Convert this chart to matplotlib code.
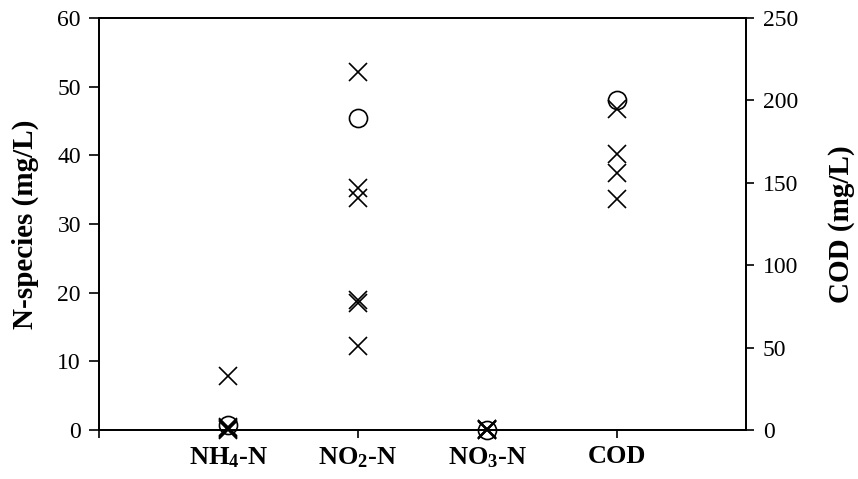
import numpy as np
import matplotlib
matplotlib.use('Agg')
import matplotlib.pyplot as plt

plt.rcParams['font.family'] = ['Liberation Serif', 'DejaVu Serif']
plt.rcParams['mathtext.fontset'] = 'custom'
plt.rcParams['mathtext.rm'] = 'Liberation Serif:bold'
plt.rcParams['mathtext.bf'] = 'Liberation Serif:bold'
plt.rcParams['mathtext.default'] = 'bf'

# category labels and x positions
categories = ['NH$_4$-N', 'NO$_2$-N', 'NO$_3$-N', 'COD']
cat_pos = [1, 2, 3, 4]

# N-species (left axis), individual samples (x) and the circle value
nh4_x = [7.8, 0.5, 0.3, 0.1, 0.0]
nh4_o = [0.8]
no2_x = [52.2, 35.2, 33.8, 18.9, 18.5, 12.2]
no2_o = [45.4]
no3_x = [0.2, 0.1, 0.0, 0.0]
no3_o = [0.0]

# COD (right axis)
cod_x = [194.5, 167.5, 156.0, 140.0]
cod_o = [200.0]

fig = plt.figure(figsize=(8.58, 4.79), dpi=100)
ax = fig.add_axes([99/858, 1 - 430/479, (746 - 99)/858, (430 - 18)/479])
ax2 = ax.twinx()

msz = 13
mew = 1.2
for pos, xs, os_ in zip(cat_pos[:3], [nh4_x, no2_x, no3_x], [nh4_o, no2_o, no3_o]):
    ax.plot([pos] * len(os_), os_, 'o', ms=msz, mfc='none', mec='black', mew=mew, clip_on=False)
    ax.plot([pos] * len(xs), xs, 'x', ms=msz, color='black', mew=mew, clip_on=False)

ax2.plot([cat_pos[3]] * len(cod_o), cod_o, 'o', ms=msz, mfc='none', mec='black', mew=mew)
ax2.plot([cat_pos[3]] * len(cod_x), cod_x, 'x', ms=msz, color='black', mew=mew)

ax.set_xlim(0, 5)
ax.set_ylim(0, 60)
ax2.set_ylim(0, 250)
ax.set_yticks(np.arange(0, 61, 10))
ax2.set_yticks(np.arange(0, 251, 50))

# major x ticks only as marks, category names on minor ticks
ax.xaxis.remove_overlapping_locs = False
ax.set_xticks([0, 2, 4])
ax.set_xticklabels([])
ax.set_xticks(cat_pos, categories, minor=True)
ax.tick_params(axis='x', which='minor', length=0, pad=11, labelsize=19)
for t in ax.get_xticklabels(minor=True):
    t.set_fontweight('bold')
ax.tick_params(axis='x', which='major', direction='out', length=6, width=1.2)
ax.tick_params(axis='y', direction='out', length=7, width=1.2, labelsize=17, pad=6)
ax2.tick_params(axis='y', direction='out', length=6, width=1.2, labelsize=17, pad=6)

for a in (ax, ax2):
    for s in a.spines.values():
        s.set_linewidth(1.3)

ax.set_ylabel('N-species (mg/L)', fontsize=21, fontweight='bold')
ax2.set_ylabel('COD (mg/L)', fontsize=21, fontweight='bold')
ax.yaxis.set_label_coords(-0.092, 0.5)
ax2.yaxis.set_label_coords(1.127, 0.5)

fig.savefig('out.png', dpi=100)
